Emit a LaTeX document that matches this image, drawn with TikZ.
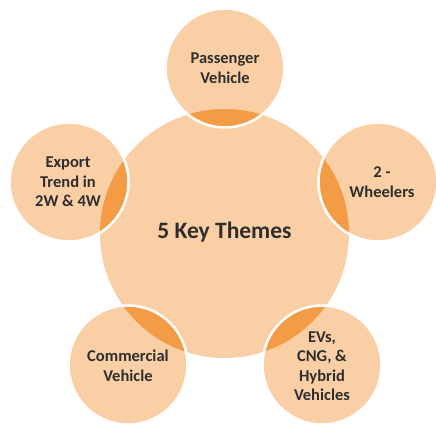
\documentclass[tikz,border=0pt]{standalone}
\usepackage{fontspec}
\setmainfont{Carlito}
\definecolor{peach}{HTML}{FBCFA5}
\definecolor{amber}{HTML}{F39C45}
\definecolor{ink}{HTML}{2E2E2E}
\begin{document}
\begin{tikzpicture}[x=1pt,y=-1pt,
  themetext/.style={align=center,text=ink,
    font=\fontsize{16.5}{19.5}\selectfont\bfseries},
  hubtext/.style={text=ink,font=\fontsize{23.5}{28}\selectfont\bfseries}]
\useasboundingbox (0,0) rectangle (436,426);
% hub and the five satellites
\coordinate (c)   at (224.5,233.5);
\coordinate (pv)  at (225,68);
\coordinate (tw)  at (378,182);
\coordinate (ev)  at (322,365);
\coordinate (cv)  at (128,365);
\coordinate (ex)  at (69,182);
\fill[peach] (c) circle (124.5pt);
\foreach \o in {pv,tw,ev,cv,ex}{
  \fill[peach] (\o) circle (59.5pt);
  \begin{scope}
    \clip (\o) circle (59.5pt);
    \fill[amber] (c) circle (124.5pt);
  \end{scope}
  \draw[white,line width=2.5pt] (\o) circle (59.5pt);
}
% labels
\node[hubtext] (hub) at (224.5,232) {5 Key Themes};
\node[themetext] (lpv) at (225,68) {Passenger\\Vehicle};
\node[themetext] (ltw) at (382,182) {2 -\\Wheelers};
\node[themetext] (lev) at (322,366) {EVs,\\CNG, \&\\Hybrid\\Vehicles};
\node[themetext] (lcv) at (128,366) {Commercial\\Vehicle};
\node[themetext] (lex) at (68,182) {Export\\Trend in\\2W \& 4W};
\end{tikzpicture}
\end{document}
